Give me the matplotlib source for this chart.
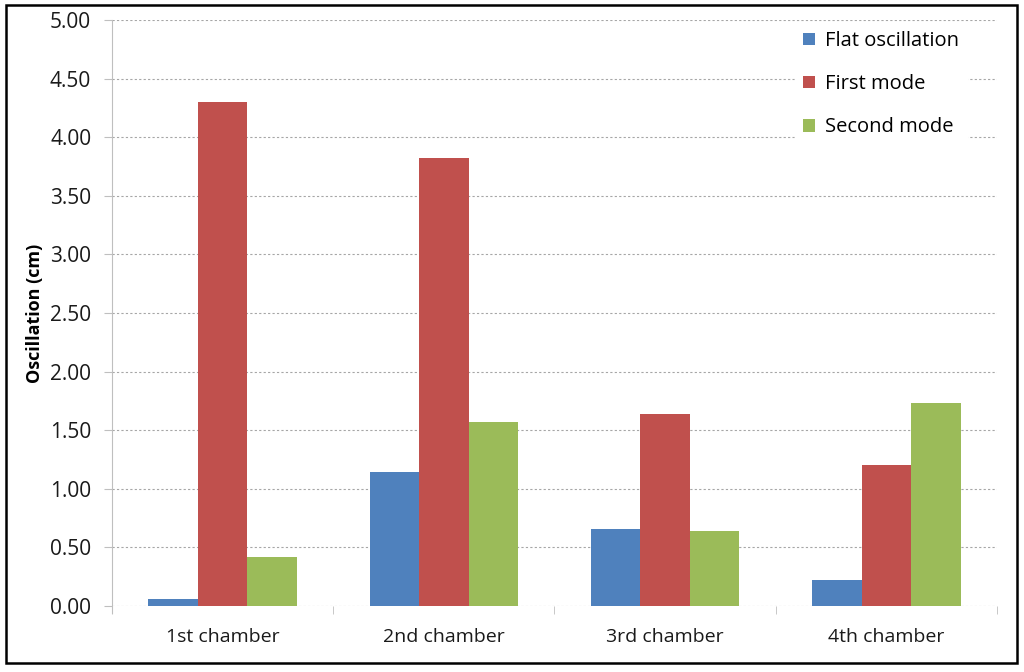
import numpy as np
import matplotlib
matplotlib.use("Agg")
from matplotlib import pyplot as plt
from matplotlib.patches import Rectangle

# Data
chambers = ['1st chamber', '2nd chamber', '3rd chamber', '4th chamber']
flat_osc = [0.06, 1.14, 0.66, 0.22]
first_mode = [4.30, 3.82, 1.64, 1.20]
second_mode = [0.42, 1.57, 0.64, 1.73]
series_names = ['Flat oscillation', 'First mode', 'Second mode']
colors = ['#4F81BD', '#C0504D', '#9BBB59']

plt.rcParams['font.family'] = ['Open Sans', 'DejaVu Sans']

fig = plt.figure(figsize=(10.24, 6.72), dpi=100)
ax = fig.add_axes([0.1094, 0.0982, 0.8642, 0.872])

x = np.arange(len(chambers))
w = 0.224
for i, (vals, name, c) in enumerate(zip([flat_osc, first_mode, second_mode], series_names, colors)):
    ax.bar(x + (i - 1) * w, vals, width=w, color=c, label=name, zorder=3)

ax.set_xlim(-0.5, 3.5)
ax.set_ylim(0, 5)
ax.set_yticks(np.arange(0, 5.01, 0.5))
ax.set_yticklabels(['%.2f' % v for v in np.arange(0, 5.01, 0.5)])
ax.set_xticks(x)
ax.set_xticklabels(chambers)
ax.set_xticks(np.arange(-0.5, 3.6, 1), minor=True)

ax.grid(axis='y', linestyle=(0, (2, 2)), color='#a6a6a6', linewidth=0.8, zorder=0)
for s in ['top', 'right', 'bottom']:
    ax.spines[s].set_visible(False)
ax.spines['left'].set_color('#bfbfbf')
ax.spines['left'].set_bounds(-0.06, 5)

ax.tick_params(axis='y', length=6, color='#bfbfbf', pad=9, labelsize=15, labelcolor='#1a1a1a')
ax.tick_params(axis='x', which='major', length=0, pad=16, labelsize=14, labelcolor='#1a1a1a')
ax.tick_params(axis='x', which='minor', length=6, color='#bfbfbf')

ax.set_ylabel('Oscillation (cm)', fontsize=13, fontweight='bold', labelpad=4)

leg = ax.legend(loc='upper left', bbox_to_anchor=(0.772, 0.995), frameon=True, fontsize=14.5,
                handlelength=0.6, handleheight=0.6, handletextpad=0.5,
                labelspacing=1.15, borderaxespad=0, borderpad=0.4)
leg.get_frame().set_edgecolor('white')
leg.get_frame().set_facecolor('white')
leg.get_frame().set_alpha(1)
leg.set_zorder(5)

fig.patches.append(Rectangle((6 / 1024, 1 - 663 / 672), 1011 / 1024, 658 / 672,
                             transform=fig.transFigure, fill=False,
                             edgecolor='black', linewidth=1.8))

fig.savefig('out.png', dpi=100)
